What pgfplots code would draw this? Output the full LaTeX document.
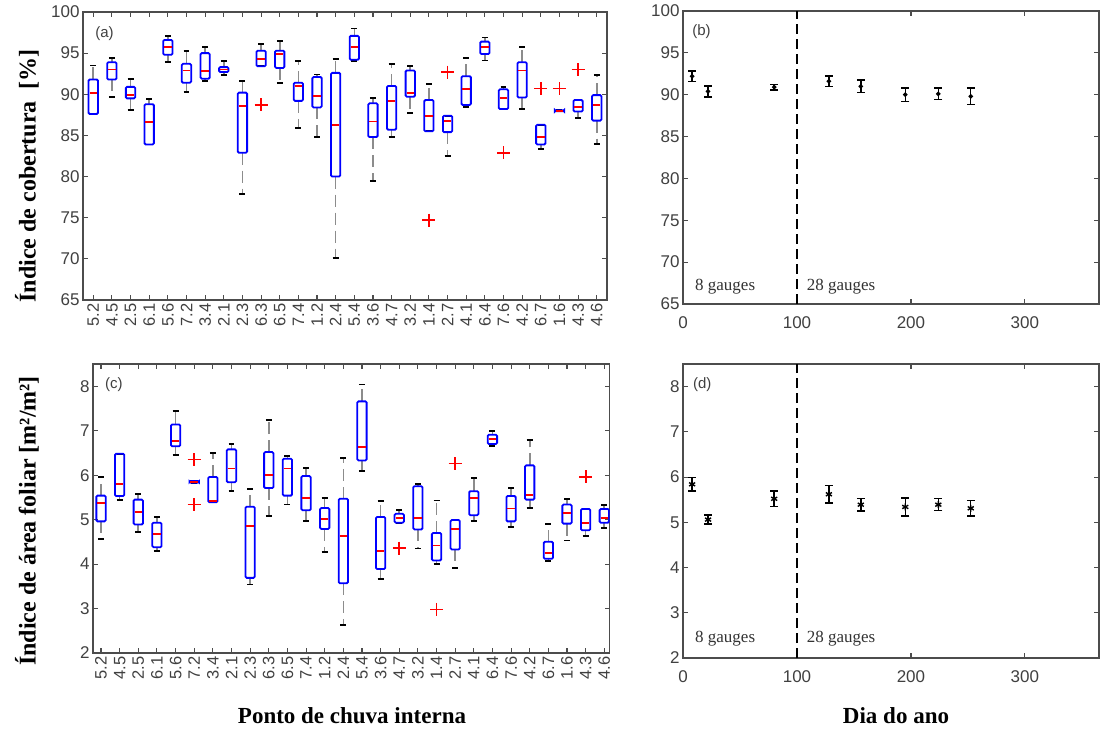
\documentclass[border=0pt]{standalone}
\usepackage{pgfplots}
\pgfplotsset{compat=1.18}
\usepgfplotslibrary{statistics}
\usepackage{fontspec}
\setmainfont{Liberation Serif}
\setsansfont{Liberation Sans}

\tikzset{
 whiskerline/.style={black!45, line width=1.6pt, dash pattern=on 12pt off 6pt},
 whiskercap/.style={black, line width=1.9pt},
 boxline/.style={blue, line width=1.8pt, rounded corners=1.2pt},
 medline/.style={red, line width=1.8pt},
 lbl/.style={anchor=west, inner sep=0pt, font=\sffamily\fontsize{15}{15}\selectfont, text=black!75},
 gau/.style={anchor=west, inner sep=0pt, font=\fontsize{17}{17}\selectfont, text=black!80},
}
\pgfplotsset{
 mybox/.style={
  boxplot/draw direction=y,
  boxplot/box extend=0.5,
  boxplot/whisker extend=0.32,
  boxplot/draw/box/.code={%
   \draw[boxline] (boxplot box cs:\pgfplotsboxplotvalue{lower quartile},0) rectangle (boxplot box cs:\pgfplotsboxplotvalue{upper quartile},1);
  },
  boxplot/draw/median/.code={%
   \draw[medline] (boxplot box cs:\pgfplotsboxplotvalue{median},0.1) -- (boxplot box cs:\pgfplotsboxplotvalue{median},0.9);
  },
  boxplot/draw/lower whisker/.code={%
   \draw[whiskerline] (boxplot box cs:\pgfplotsboxplotvalue{lower quartile},0.5) -- (boxplot box cs:\pgfplotsboxplotvalue{lower whisker},0.5);
   \draw[whiskercap] (boxplot whisker cs:\pgfplotsboxplotvalue{lower whisker},0) -- (boxplot whisker cs:\pgfplotsboxplotvalue{lower whisker},1);
  },
  boxplot/draw/upper whisker/.code={%
   \draw[whiskerline] (boxplot box cs:\pgfplotsboxplotvalue{upper quartile},0.5) -- (boxplot box cs:\pgfplotsboxplotvalue{upper whisker},0.5);
   \draw[whiskercap] (boxplot whisker cs:\pgfplotsboxplotvalue{upper whisker},0) -- (boxplot whisker cs:\pgfplotsboxplotvalue{upper whisker},1);
  },
 },
 myframe/.style={scale only axis, anchor=south west,
  axis line style={black!70, line width=1.3pt},
  tick style={black!70, line width=1.1pt}, major tick length=5pt,
  tick label style={font=\sffamily\fontsize{17}{17}\selectfont, text=black!75},
  /pgf/number format/assume math mode=true},
 cats/.style={xtick={1,...,28},
  xticklabels={5.2,4.5,2.5,6.1,5.6,7.2,3.4,2.1,2.3,6.3,6.5,7.4,1.2,2.4,5.4,3.6,4.7,3.2,1.4,2.7,4.1,6.4,7.6,4.2,6.7,1.6,4.3,4.6},
  xticklabel style={rotate=90, anchor=east, font=\sffamily\fontsize{16.5}{16.5}\selectfont}},
 days/.style={xtick={0,100,200,300}, xticklabel style={yshift=-9pt}},
 outl/.style={only marks, mark=+, mark size=6.5pt, mark options={red, line width=1.8pt}},
 errs/.style={black, only marks, line width=1.4pt,
  error bars/.cd, y dir=both, y explicit,
  error bar style={line width=1.4pt},
  error mark options={rotate=90, mark size=4pt, line width=1.4pt}},
}
\newcommand{\bp}[6]{\addplot[blue, boxplot prepared={draw position=#1, lower whisker=#2, lower quartile=#3, median=#4, upper quartile=#5, upper whisker=#6}] coordinates {};}

\begin{document}
\begin{tikzpicture}
\useasboundingbox (0pt,0pt) rectangle (1100pt,729pt);

% (a)
\begin{axis}[myframe, mybox, cats, at={(83pt,429pt)}, width=524pt, height=288pt,
  xmin=0.45, xmax=28.55, ymin=65, ymax=100, ytick={65,70,...,100}]
\bp{1}{87.6}{87.6}{90.2}{91.8}{93.5}
\bp{2}{89.7}{91.8}{93.0}{93.9}{94.4}
\bp{3}{88.1}{89.5}{89.9}{90.9}{91.9}
\bp{4}{83.9}{83.9}{86.6}{88.8}{89.4}
\bp{5}{93.9}{94.8}{95.7}{96.6}{97.1}
\bp{6}{90.3}{91.4}{92.9}{93.7}{95.3}
\bp{7}{91.6}{91.9}{92.8}{95.0}{95.7}
\bp{8}{92.3}{92.7}{93.0}{93.3}{94.0}
\bp{9}{77.9}{82.9}{88.6}{90.2}{91.6}
\bp{10}{93.4}{93.4}{94.3}{95.3}{96.1}
\bp{11}{91.4}{93.2}{94.9}{95.3}{96.5}
\bp{12}{85.9}{89.2}{91.0}{91.4}{94.0}
\bp{13}{84.8}{88.4}{89.8}{92.1}{92.4}
\bp{14}{70.1}{80.0}{86.3}{92.6}{94.3}
\bp{15}{94.0}{94.2}{95.7}{97.1}{98.0}
\bp{16}{79.5}{84.8}{86.7}{88.9}{89.6}
\bp{17}{84.8}{85.7}{89.2}{91.0}{93.7}
\bp{18}{87.7}{89.7}{90.2}{92.9}{93.4}
\bp{19}{85.5}{85.5}{87.4}{89.3}{91.2}
\bp{20}{82.5}{85.4}{86.8}{87.4}{87.4}
\bp{21}{88.5}{88.7}{90.6}{92.2}{94.4}
\bp{22}{94.1}{94.9}{95.7}{96.4}{96.9}
\bp{23}{88.2}{88.2}{89.5}{90.6}{90.9}
\bp{24}{88.2}{89.6}{92.9}{93.9}{95.7}
\bp{25}{83.4}{83.9}{84.8}{86.3}{86.3}
\bp{26}{87.95}{87.95}{88.0}{88.05}{88.05}
\bp{27}{87.1}{87.9}{88.5}{89.3}{89.3}
\bp{28}{84.0}{86.8}{88.7}{89.9}{92.3}
\addplot[outl] coordinates {(10,88.7) (19,74.7) (20,92.7) (23,82.9) (25,90.7) (26,90.7) (27,93.0)};
\node[lbl] at (axis cs:1.1,97.4) {(a)};
\end{axis}

% (b)
\begin{axis}[myframe, days, at={(683pt,425pt)}, width=416pt, height=293pt,
  xmin=0, xmax=365, ymin=65, ymax=100, ytick={65,70,...,100}]
\addplot[black, line width=1.6pt, dash pattern=on 10pt off 5pt] coordinates {(100,65) (100,100)};
\addplot[mark=*, mark size=1.5pt, errs] coordinates {
 (8,92.2) +- (0,0.65)
 (22,90.4) +- (0,0.65)
 (80,90.9) +- (0,0.35)
 (128,91.6) +- (0,0.65)
 (156,91.0) +- (0,0.75)
 (195,90.0) +- (0,0.8)
 (224,90.1) +- (0,0.7)
 (252.5,89.8) +- (0,1.0)
};
\node[lbl] at (axis cs:8,97.5) {(b)};
\node[gau] at (axis cs:10.5,67.1) {8 gauges};
\node[gau] at (axis cs:108.5,67.1) {28 gauges};
\end{axis}

% (c)
\begin{axis}[myframe, mybox, cats, at={(93pt,76pt)}, width=516.5pt, height=289pt,
  xmin=0.57, xmax=28.28, ymin=2, ymax=8.5, ytick={2,...,8}]
\bp{1}{4.57}{4.96}{5.38}{5.54}{5.96}
\bp{2}{5.44}{5.53}{5.81}{6.48}{6.48}
\bp{3}{4.72}{4.89}{5.18}{5.45}{5.58}
\bp{4}{4.30}{4.38}{4.68}{4.93}{5.05}
\bp{5}{6.45}{6.65}{6.77}{7.14}{7.45}
\bp{6}{5.83}{5.83}{5.85}{5.87}{5.87}
\bp{7}{5.39}{5.39}{5.41}{5.96}{6.50}
\bp{8}{5.64}{5.84}{6.15}{6.58}{6.70}
\bp{9}{3.54}{3.69}{4.85}{5.29}{5.69}
\bp{10}{5.09}{5.71}{6.00}{6.52}{7.24}
\bp{11}{5.34}{5.54}{6.15}{6.37}{6.44}
\bp{12}{4.96}{5.21}{5.49}{5.98}{6.16}
\bp{13}{4.27}{4.79}{5.02}{5.26}{5.49}
\bp{14}{2.62}{3.57}{4.64}{5.47}{6.38}
\bp{15}{6.10}{6.33}{6.64}{7.66}{8.04}
\bp{16}{3.67}{3.89}{4.30}{5.06}{5.41}
\bp{17}{4.93}{4.93}{5.04}{5.13}{5.21}
\bp{18}{4.35}{4.78}{5.03}{5.75}{5.80}
\bp{19}{4.01}{4.08}{4.42}{4.70}{5.43}
\bp{20}{3.91}{4.33}{4.79}{4.99}{4.99}
\bp{21}{4.96}{5.10}{5.49}{5.64}{5.94}
\bp{22}{6.65}{6.70}{6.82}{6.91}{7.00}
\bp{23}{4.83}{4.96}{5.25}{5.53}{5.71}
\bp{24}{5.26}{5.45}{5.56}{6.22}{6.79}
\bp{25}{4.06}{4.12}{4.25}{4.50}{4.91}
\bp{26}{4.53}{4.91}{5.14}{5.34}{5.47}
\bp{27}{4.63}{4.76}{4.93}{5.24}{5.24}
\bp{28}{4.81}{4.93}{5.04}{5.24}{5.32}
\addplot[outl] coordinates {(6,6.35) (6,5.34) (17,4.36) (19,2.98) (20,6.26) (27,5.96)};
\node[lbl] at (axis cs:1.21,8.04) {(c)};
\end{axis}

% (d)
\begin{axis}[myframe, days, at={(683pt,71pt)}, width=416pt, height=294pt,
  xmin=0, xmax=365, ymin=2, ymax=8.5, ytick={2,...,8}]
\addplot[black, line width=1.6pt, dash pattern=on 10pt off 5pt] coordinates {(100,2) (100,8.5)};
\addplot[mark=asterisk, mark size=3.5pt, errs] coordinates {
 (8,5.84) +- (0,0.15)
 (22,5.06) +- (0,0.1)
 (80,5.52) +- (0,0.17)
 (128,5.62) +- (0,0.19)
 (156,5.39) +- (0,0.14)
 (195,5.34) +- (0,0.2)
 (224,5.39) +- (0,0.13)
 (252.5,5.31) +- (0,0.17)
};
\node[lbl] at (axis cs:8.7,8.04) {(d)};
\node[gau] at (axis cs:10.5,2.42) {8 gauges};
\node[gau] at (axis cs:108.5,2.42) {28 gauges};
\end{axis}

\node[rotate=90, font=\bfseries\fontsize{24}{24}\selectfont] at (27pt,553pt) {Índice de cobertura\ \ [\%]};
\node[rotate=90, font=\bfseries\fontsize{24}{24}\selectfont] at (27pt,208pt) {Índice de área foliar [m²/m²]};
\node[font=\bfseries\fontsize{23}{23}\selectfont] at (352pt,13pt) {Ponto de chuva interna};
\node[font=\bfseries\fontsize{23}{23}\selectfont] at (896pt,13pt) {Dia do ano};
\end{tikzpicture}
\end{document}
